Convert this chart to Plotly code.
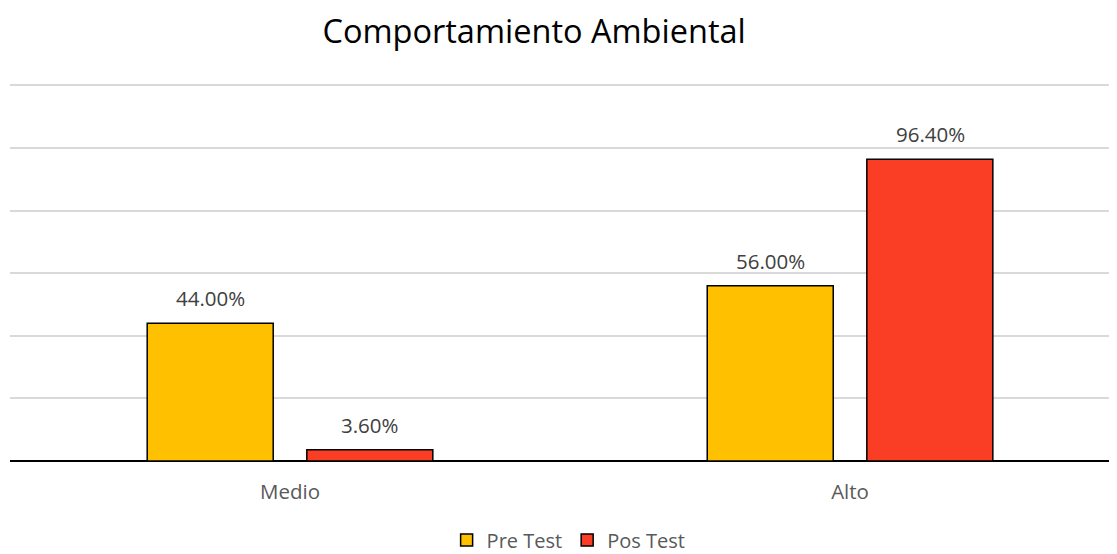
import plotly.graph_objects as go

categories = ["Medio", "Alto"]
pre_test = [44.0, 56.0]
pos_test = [3.6, 96.4]
series_names = ["Pre Test", "Pos Test"]
colors = ["#FFC000", "#F93E25"]

font = "Open Sans, Calibri, sans-serif"

fig = go.Figure()
offsets = [-0.255, 0.03]
for name, vals, col, off in zip(series_names, [pre_test, pos_test], colors, offsets):
    fig.add_trace(go.Bar(
        name=name, x=categories, y=vals,
        marker=dict(color=col, line=dict(color="black", width=1.5)),
        width=0.225, offset=off,
    ))

# data labels above bars
shifts = [-80, 80]
for vals, xs in zip([pre_test, pos_test], shifts):
    for c, v in zip(categories, vals):
        fig.add_annotation(x=c, y=v, text=f"{v:.2f}%", showarrow=False,
                           xshift=xs, yshift=25,
                           font=dict(family=font, size=20.5, color="#404040"))

fig.update_layout(
    width=1117, height=554,
    margin=dict(l=2, r=0, t=76, b=101, autoexpand=False),
    paper_bgcolor="white", plot_bgcolor="white",
    title=dict(text="Comportamiento Ambiental", x=0.471, xanchor="center",
               y=1 - 24 / 554, yanchor="middle", yref="container",
               font=dict(family=font, size=32.5, color="black")),
    xaxis=dict(range=[-0.5, 1.491], showgrid=False, showline=False, ticks="",
               ticklabelstandoff=16,
               tickfont=dict(family=font, size=20.5, color="#595959")),
    yaxis=dict(range=[0, 120.4], tickvals=[20, 40, 60, 80, 100, 120],
               showticklabels=False,
               gridcolor="#d9d9d9", gridwidth=1.5,
               zeroline=True, zerolinecolor="black", zerolinewidth=2),
    legend=dict(orientation="h", x=0.501, xanchor="center",
                y=1 - 532 / 554, yref="container", yanchor="middle",
                font=dict(family=font, size=20, color="#595959"),
                itemwidth=30),
    showlegend=True,
)

fig.write_html("out.html")
